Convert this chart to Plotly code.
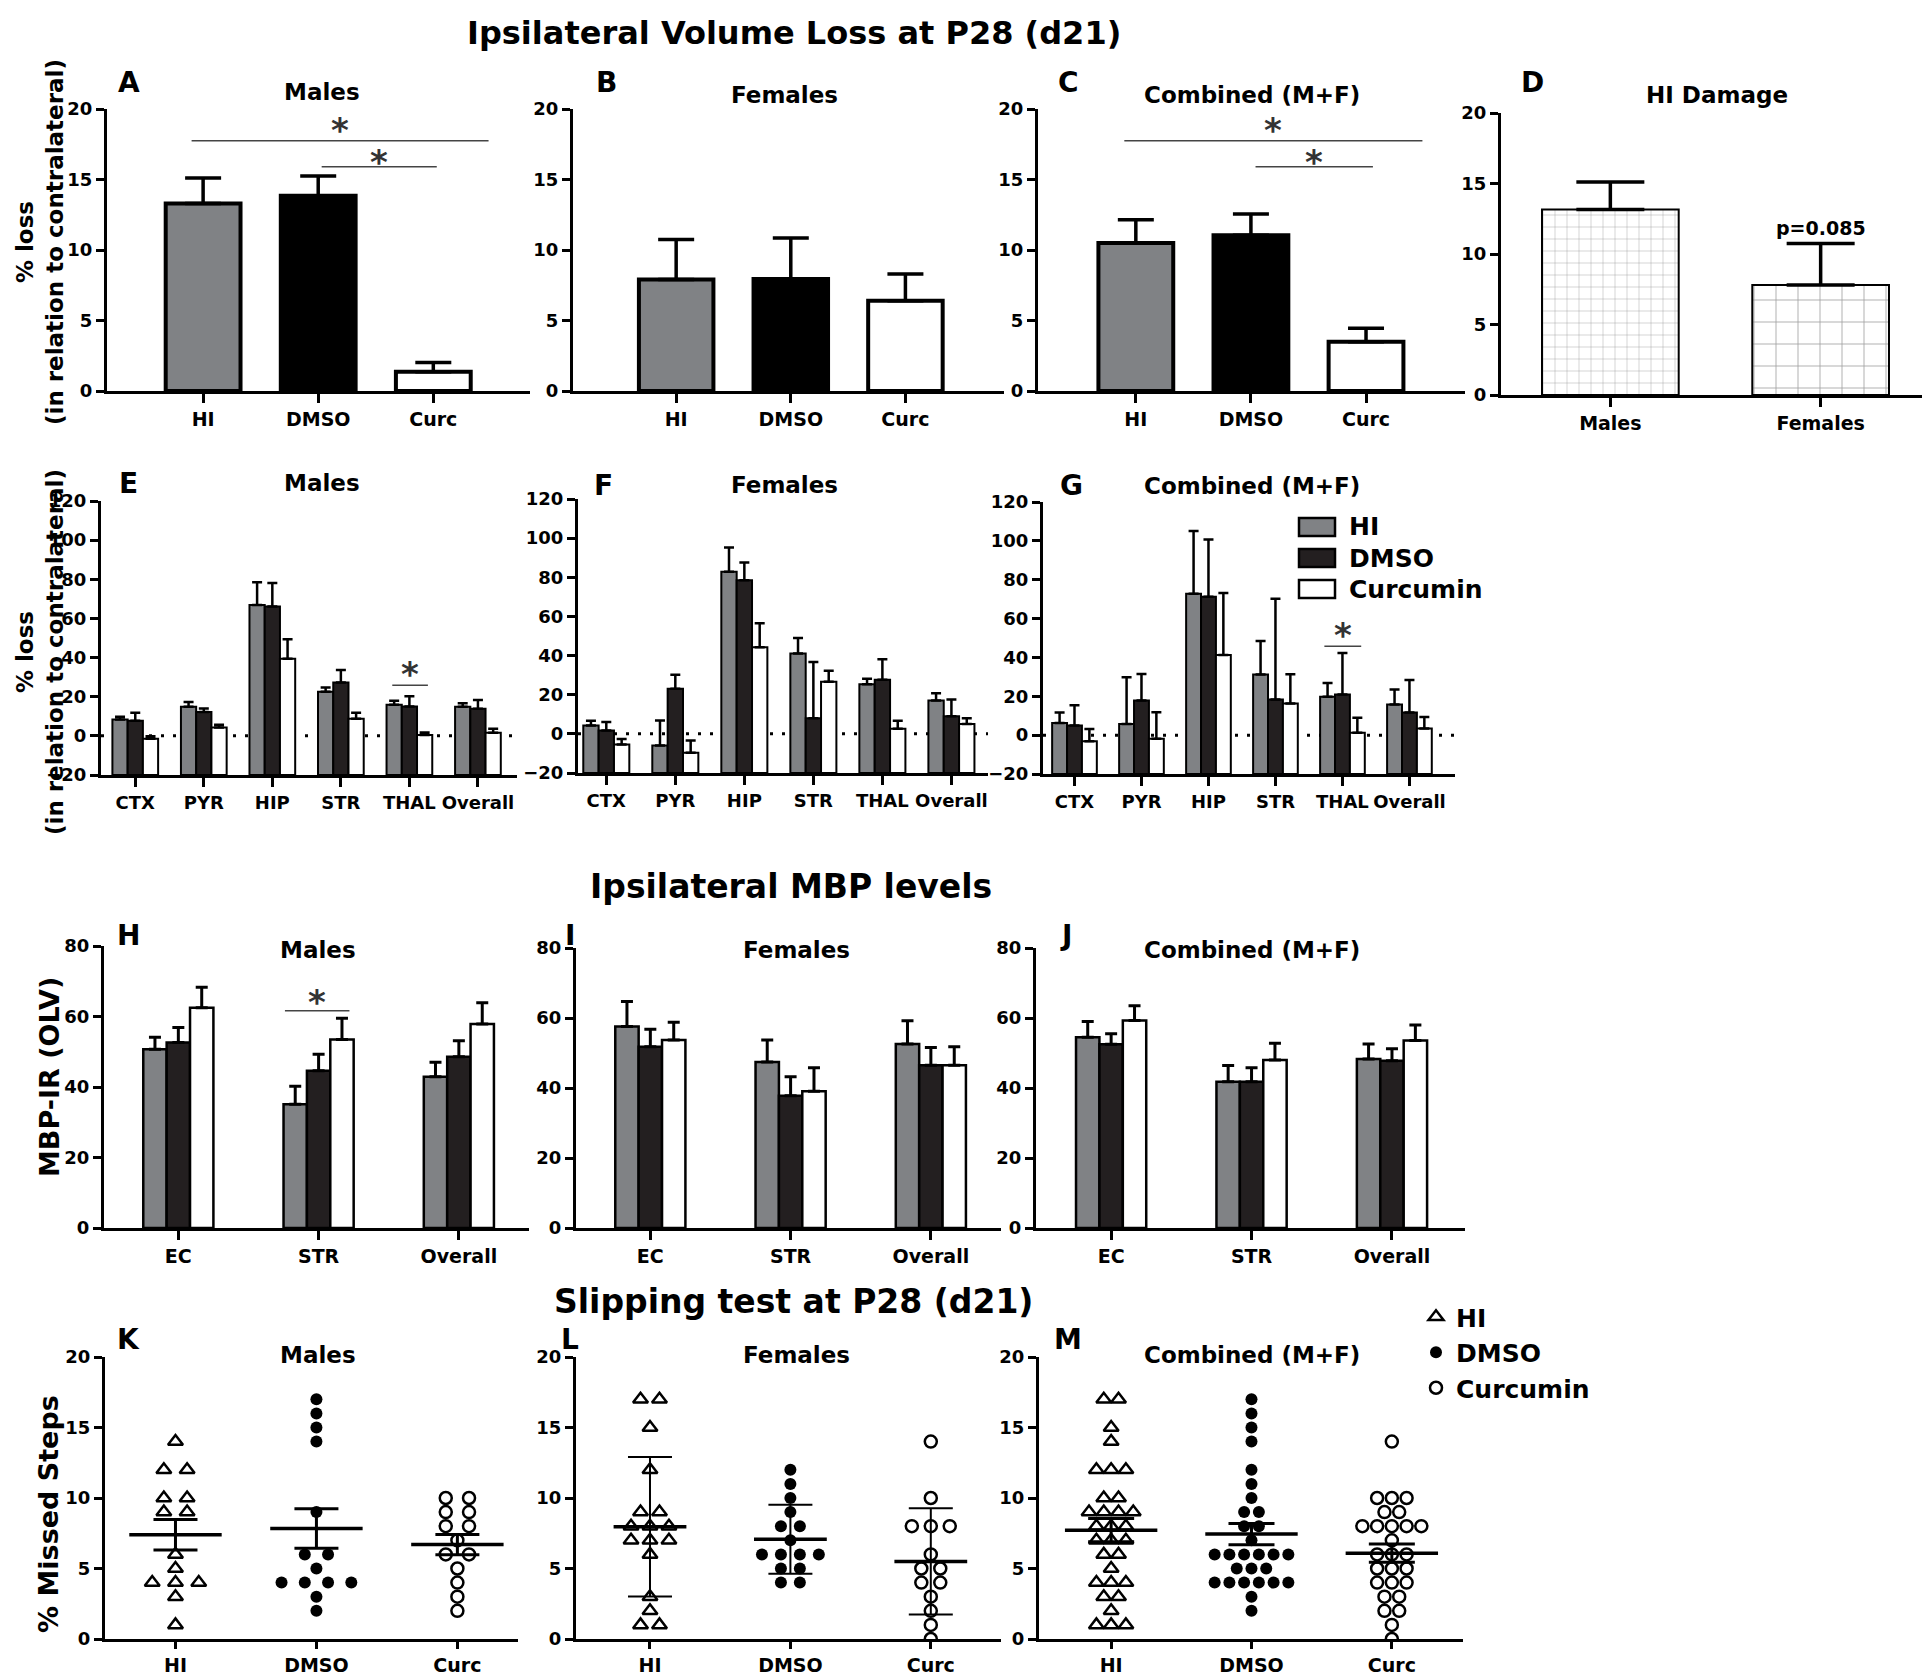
import plotly.graph_objects as go
from collections import Counter, defaultdict

# the page body adds 8px around the figure, so reference pixel positions
# are shifted back by OFF when placed on the figure
OFF = 8
W, H = 1930, 1672
FONT = "DejaVu Sans, Liberation Sans, Arial, sans-serif"
GRAY, DARK, WHITE = "#808285", "#231f20", "#ffffff"

# ---------------- data ----------------
treatments = ["HI", "DMSO", "Curc"]
treat_names = ["HI", "DMSO", "Curcumin"]
regions = ["CTX", "PYR", "HIP", "STR", "THAL", "Overall"]
mbp_regions = ["EC", "STR", "Overall"]
sexes = ["Males", "Females"]

# A-C: ipsilateral volume loss (%), mean and SEM for HI / DMSO / Curc
vol_male = [13.3, 13.85, 1.37]
vol_male_err = [1.8, 1.4, 0.65]
vol_female = [7.9, 7.95, 6.4]
vol_female_err = [2.85, 2.9, 1.9]
vol_comb = [10.5, 11.05, 3.5]
vol_comb_err = [1.65, 1.5, 0.95]

# D: HI damage by sex
dmg = [13.15, 7.8]
dmg_err = [1.95, 2.95]

# E-G: regional loss (%), per treatment over regions
reg_male = {
    "HI": [8.4, 14.9, 66.9, 22.6, 15.9, 14.9],
    "DMSO": [7.7, 12.2, 66.1, 27.3, 15.0, 13.9],
    "Curc": [-1.5, 4.3, 39.4, 8.7, 0.5, 1.6],
}
reg_male_err = {
    "HI": [1.4, 2.4, 11.6, 2.1, 2.0, 1.7],
    "DMSO": [4.1, 1.8, 12.0, 6.3, 5.3, 4.4],
    "Curc": [1.3, 1.4, 10.0, 3.1, 1.2, 2.0],
}
reg_female = {
    "HI": [4.3, -6.0, 82.8, 41.1, 25.3, 17.1],
    "DMSO": [1.7, 23.0, 78.5, 8.0, 27.6, 9.0],
    "Curc": [-5.5, -9.7, 44.2, 26.6, 2.6, 5.1],
}
reg_female_err = {
    "HI": [2.4, 12.8, 12.4, 7.9, 2.9, 3.7],
    "DMSO": [4.3, 7.2, 9.0, 28.7, 10.5, 8.6],
    "Curc": [2.9, 6.3, 12.3, 5.7, 4.1, 2.9],
}
reg_comb = {
    "HI": [6.3, 5.7, 72.8, 31.2, 19.7, 15.8],
    "DMSO": [5.0, 17.8, 71.2, 18.3, 20.9, 11.6],
    "Curc": [-3.1, -1.9, 41.3, 16.3, 1.2, 3.4],
}
reg_comb_err = {
    "HI": [5.3, 24.1, 32.3, 17.3, 7.2, 7.7],
    "DMSO": [10.4, 13.7, 29.5, 51.9, 21.4, 16.8],
    "Curc": [6.2, 13.7, 31.8, 15.0, 7.7, 6.0],
}

# H-J: MBP-IR (OLV)
mbp_male = {"HI": [50.7, 35.1, 42.9], "DMSO": [52.6, 44.6, 48.6], "Curc": [62.5, 53.5, 57.9]}
mbp_male_err = {"HI": [3.4, 5.1, 4.1], "DMSO": [4.3, 4.7, 4.5], "Curc": [5.8, 6.0, 6.0]}
mbp_female = {"HI": [57.6, 47.4, 52.6], "DMSO": [51.8, 37.8, 46.5], "Curc": [53.7, 39.1, 46.5]}
mbp_female_err = {"HI": [7.1, 6.3, 6.6], "DMSO": [5.0, 5.4, 5.1], "Curc": [5.1, 6.7, 5.3]}
mbp_comb = {"HI": [54.5, 41.8, 48.3], "DMSO": [52.5, 41.8, 47.8], "Curc": [59.3, 48.0, 53.6]}
mbp_comb_err = {"HI": [4.5, 4.6, 4.3], "DMSO": [3.0, 4.0, 3.4], "Curc": [4.2, 4.8, 4.4]}

# K-M: slipping test, % missed steps per animal
male_hi = [14, 12, 12, 10, 10, 9, 9, 6, 5, 4, 4, 4, 3, 1]
male_dmso = [17, 16, 15, 14, 9, 6, 6, 5, 4, 4, 4, 4, 3, 2]
male_curc = [10, 10, 9, 9, 8, 8, 7, 6, 6, 5, 4, 3, 2]
female_hi = [17, 17, 15, 12, 9, 9, 8, 8, 8, 7, 7, 7, 6, 3, 2, 1, 1]
female_dmso = [12, 11, 10, 9, 8, 8, 7, 6, 6, 6, 6, 5, 5, 4, 4]
female_curc = [14, 10, 8, 8, 8, 6, 5, 5, 4, 4, 3, 2, 1, 0]
slip_male_mean = [7.39, 7.84, 6.7]
slip_male_err = [1.08, 1.4, 0.72]
slip_female_mean = [7.96, 7.08, 5.5]
slip_female_err = [4.95, 2.45, 3.77]
slip_comb_mean = [7.72, 7.44, 6.09]
slip_comb_err = [0.83, 0.76, 0.65]

# significance brackets: panel, x0, x1, y of line, y of star
sig_brackets = [
    (1, -0.1, 2.48, 17.75, 18.9),
    (1, 1.03, 2.03, 15.9, 16.6),
    (3, -0.1, 2.49, 17.75, 18.9),
    (3, 1.04, 2.06, 15.9, 16.6),
    (5, 3.75, 4.27, 25.9, 34.4),
    (7, 3.73, 4.28, 45.8, 53.9),
    (8, 0.76, 1.22, 61.6, 65.6),
]

# ---------------- layout helpers ----------------
fig = go.Figure()
layout = {}
annotations = []
shapes = []


def fx(p):
    return min(max((p - OFF) / W, 0), 1)


def fy(p):
    return min(max(1 - (p - OFF) / H, 0), 1)


def ax(n, letter):
    return letter if n == 1 else f"{letter}{n}"


def add_axes(n, xpx, ypx, xr, yr, dtick, cats, tsize, csize, ticklen=9):
    layout[ax(n, "xaxis")] = dict(
        domain=[fx(xpx[0]), fx(xpx[1])], range=xr, anchor=ax(n, "y"),
        tickvals=list(range(len(cats))), ticktext=cats, tickangle=0,
        showline=True, linewidth=3, linecolor="black", ticks="outside",
        ticklen=ticklen, tickwidth=3, tickcolor="black", showgrid=False, zeroline=False,
        tickfont=dict(size=csize, family=FONT, color="black", weight="bold"),
    )
    layout[ax(n, "yaxis")] = dict(
        domain=[fy(ypx[1]), fy(ypx[0])], range=yr, anchor=ax(n, "x"),
        tick0=yr[0], dtick=dtick, showline=True, linewidth=3, linecolor="black",
        ticks="outside", ticklen=8, tickwidth=3, tickcolor="black",
        showgrid=False, zeroline=False,
        tickfont=dict(size=tsize, family=FONT, color="black", weight="bold"),
    )


def text(px, py, s, size, xanchor="center", **kw):
    annotations.append(dict(
        x=fx(px), y=fy(py), xref="paper", yref="paper", text=s, showarrow=False,
        font=dict(size=size, family=FONT, color="black", weight="bold"),
        xanchor=xanchor, yanchor="middle", **kw))


# ---------------- row 1: A-C single bars ----------------
row1 = [
    (1, (107, 530), (-0.835, 2.84), vol_male, vol_male_err),
    (2, (573, 1004), (-0.9, 2.86), vol_female, vol_female_err),
    (3, (1038, 1465), (-0.85, 2.86), vol_comb, vol_comb_err),
]
for n, xpx, xr, vals, errs in row1:
    add_axes(n, xpx, (109, 391), xr, [0, 20], 5, treatments, 18, 19)
    fig.add_trace(go.Bar(
        x=list(range(3)), y=vals, width=0.65,
        marker=dict(color=[GRAY, "black", WHITE], line=dict(color="black", width=4)),
        error_y=dict(type="data", array=errs, arrayminus=[0] * 3, symmetric=False,
                     color="black", thickness=3.5, width=18),
        xaxis=ax(n, "x"), yaxis=ax(n, "y"), showlegend=False))

# D: HI damage, brick-like pattern
add_axes(4, (1501, 1930), (113, 395), [-0.52, 1.52], [0, 20], 5, sexes, 18, 19)
fig.add_trace(go.Bar(
    x=[0, 1], y=dmg, width=0.65,
    marker=dict(color=WHITE, line=dict(color="black", width=2),
                pattern=dict(shape="+", size=[12, 22], fgcolor="#4d4d4d",
                             bgcolor=WHITE, solidity=0.08)),
    error_y=dict(type="data", array=dmg_err, arrayminus=[0, 0], symmetric=False,
                 color="black", thickness=3.5, width=34),
    xaxis="x4", yaxis="y4", showlegend=False))
annotations.append(dict(x=1, y=dmg[1] + dmg_err[1] + 1.1, xref="x4", yref="y4",
                        text="p=0.085", showarrow=False,
                        font=dict(size=19, family=FONT, color="black", weight="bold")))

# ---------------- row 2: E-G grouped regional bars ----------------
BASE = -20
colors = {"HI": GRAY, "DMSO": DARK, "Curc": WHITE}
row2 = [
    (5, (101, 517), (501, 775), (-0.5, 5.57), reg_male, reg_male_err),
    (6, (578, 988), (499, 773), (-0.41, 5.53), reg_female, reg_female_err),
    (7, (1043, 1455), (502, 774), (-0.47, 5.68), reg_comb, reg_comb_err),
]
gw = 0.667
for n, xpx, ypx, xr, vals, errs in row2:
    add_axes(n, xpx, ypx, xr, [-20, 120], 20, regions, 18, 18)
    shapes.append(dict(type="line", xref=f"x{n} domain", yref=f"y{n}", x0=0, x1=1,
                       y0=0, y1=0, layer="below",
                       line=dict(color="black", width=3, dash="3px,9px")))
    for k, t in enumerate(treatments):
        fig.add_trace(go.Bar(
            x=list(range(len(regions))), y=[v - BASE for v in vals[t]], base=BASE,
            width=gw / 3, offset=-gw / 2 + k * gw / 3, name=treat_names[k],
            marker=dict(color=colors[t], line=dict(color="black", width=2)),
            error_y=dict(type="data", array=errs[t], arrayminus=[0] * 6,
                         symmetric=False, color="black", thickness=2.5, width=5),
            xaxis=f"x{n}", yaxis=f"y{n}", showlegend=False))

# bar key inside panel G (large swatches as in the original)
for k, t in enumerate(treatments):
    cy = 527 + 31 * k
    shapes.append(dict(type="rect", xref="paper", yref="paper",
                       x0=fx(1299), x1=fx(1335), y0=fy(cy + 9), y1=fy(cy - 9),
                       fillcolor=colors[t], line=dict(color="black", width=2.5)))
    text(1347, cy, treat_names[k], 25, xanchor="left")

# ---------------- row 3: H-J MBP ----------------
row3 = [
    (8, (104, 529), (946, 1228), (-0.53, 2.5), mbp_male, mbp_male_err),
    (9, (576, 1001), (948, 1228), (-0.53, 2.5), mbp_female, mbp_female_err),
    (10, (1036, 1465), (948, 1228), (-0.535, 2.52), mbp_comb, mbp_comb_err),
]
gw3 = 0.5
for n, xpx, ypx, xr, vals, errs in row3:
    add_axes(n, xpx, ypx, xr, [0, 80], 20, mbp_regions, 18, 19)
    for k, t in enumerate(treatments):
        fig.add_trace(go.Bar(
            x=list(range(3)), y=vals[t], width=gw3 / 3, offset=-gw3 / 2 + k * gw3 / 3,
            marker=dict(color=colors[t], line=dict(color="black", width=2.5)),
            error_y=dict(type="data", array=errs[t], arrayminus=[0] * 3,
                         symmetric=False, color="black", thickness=3, width=6),
            xaxis=f"x{n}", yaxis=f"y{n}", showlegend=False))


# ---------------- row 4: K-M slipping test ----------------
def swarm(vals, step):
    counts = Counter(vals)
    seen = defaultdict(int)
    offs = []
    for v in vals:
        j = seen[v]
        seen[v] += 1
        offs.append((j - (counts[v] - 1) / 2) * step)
    return offs


sym = {
    "HI": dict(symbol="triangle-up-open", size=13, color="black", line=dict(width=2.5, color="black")),
    "DMSO": dict(symbol="circle", size=12, color="black", line=dict(width=0)),
    "Curc": dict(symbol="circle-open", size=12, color="black", line=dict(width=2.5, color="black")),
}
row4 = [
    (11, (105, 518), (-0.5, 2.43), [male_hi, male_dmso, male_curc],
     slip_male_mean, slip_male_err, 0.165, 66, 3, 22),
    (12, (576, 1001), (-0.527, 2.5), [female_hi, female_dmso, female_curc],
     slip_female_mean, slip_female_err, 0.135, 52, 2, 22),
    (13, (1039, 1463), (-0.514, 2.507),
     [male_hi + female_hi, male_dmso + female_dmso, male_curc + female_curc],
     slip_comb_mean, slip_comb_err, 0.105, 66, 3, 23),
]
for n, xpx, xr, groups, means, errs, step, msize, eth, ew in row4:
    add_axes(n, xpx, (1357, 1639), xr, [0, 20], 5, treatments, 18, 19, ticklen=7)
    for k, t in enumerate(treatments):
        pts = groups[k]
        fig.add_trace(go.Scatter(
            x=[k + o for o in swarm(pts, step)], y=pts, mode="markers",
            marker=sym[t], name=treat_names[k], xaxis=f"x{n}", yaxis=f"y{n}",
            showlegend=(n == 13)))
    fig.add_trace(go.Scatter(
        x=list(range(3)), y=means, mode="markers",
        marker=dict(symbol="line-ew", size=msize, color="black",
                    line=dict(width=3.5, color="black")),
        error_y=dict(type="data", array=errs, color="black", thickness=eth, width=ew),
        xaxis=f"x{n}", yaxis=f"y{n}", showlegend=False))

# ---------------- significance marks ----------------
for n, x0, x1, yl, ys in sig_brackets:
    shapes.append(dict(type="line", xref=ax(n, "x"), yref=ax(n, "y"), x0=x0, x1=x1,
                       y0=yl, y1=yl, line=dict(color="#444444", width=1.5)))
    annotations.append(dict(x=(x0 + x1) / 2, y=ys, xref=ax(n, "x"), yref=ax(n, "y"),
                            text="*", showarrow=False, yshift=-5,
                            font=dict(size=34, family=FONT, color="#333333", weight="bold")))

# ---------------- titles, letters, axis titles ----------------
text(794, 33, "Ipsilateral Volume Loss at P28 (d21)", 32)
text(791, 886, "Ipsilateral MBP levels", 33)
text(793, 1301, "Slipping test at P28 (d21)", 33)

letters = [
    ("A", 129, 82), ("B", 606, 82), ("C", 1068, 82), ("D", 1532, 82),
    ("E", 129, 483), ("F", 603, 485), ("G", 1071, 485),
    ("H", 129, 935), ("I", 570, 935), ("J", 1066, 935),
    ("K", 129, 1339), ("L", 570, 1339), ("M", 1068, 1339),
]
for s, px, py in letters:
    text(px, py, s, 28)

titles = [
    ("Males", 322, 92), ("Females", 784, 95), ("Combined (M+F)", 1252, 95),
    ("HI Damage", 1717, 95),
    ("Males", 322, 483), ("Females", 784, 485), ("Combined (M+F)", 1252, 486),
    ("Males", 318, 950), ("Females", 796, 950), ("Combined (M+F)", 1252, 950),
    ("Males", 318, 1355), ("Females", 796, 1355), ("Combined (M+F)", 1252, 1355),
]
for s, px, py in titles:
    text(px, py, s, 23)

text(40, 242, "% loss<br>(in relation to contralateral)", 23, textangle=-90)
text(40, 652, "% loss<br>(in relation to contralateral)", 23, textangle=-90)
text(49, 1077, "MBP-IR (OLV)", 27, textangle=-90)
text(48, 1514, "% Missed Steps", 27, textangle=-90)

fig.update_layout(
    width=W, height=H,
    margin=dict(l=0, r=0, t=0, b=0, pad=0, autoexpand=False),
    paper_bgcolor="white", plot_bgcolor="white",
    barmode="overlay",
    annotations=annotations, shapes=shapes,
    legend=dict(x=fx(1416), y=fy(1294), xanchor="left", yanchor="top",
                font=dict(size=25, family=FONT, color="black", weight="bold"),
                bgcolor="rgba(0,0,0,0)", tracegroupgap=0),
    **layout,
)

fig.write_html("out.html")
